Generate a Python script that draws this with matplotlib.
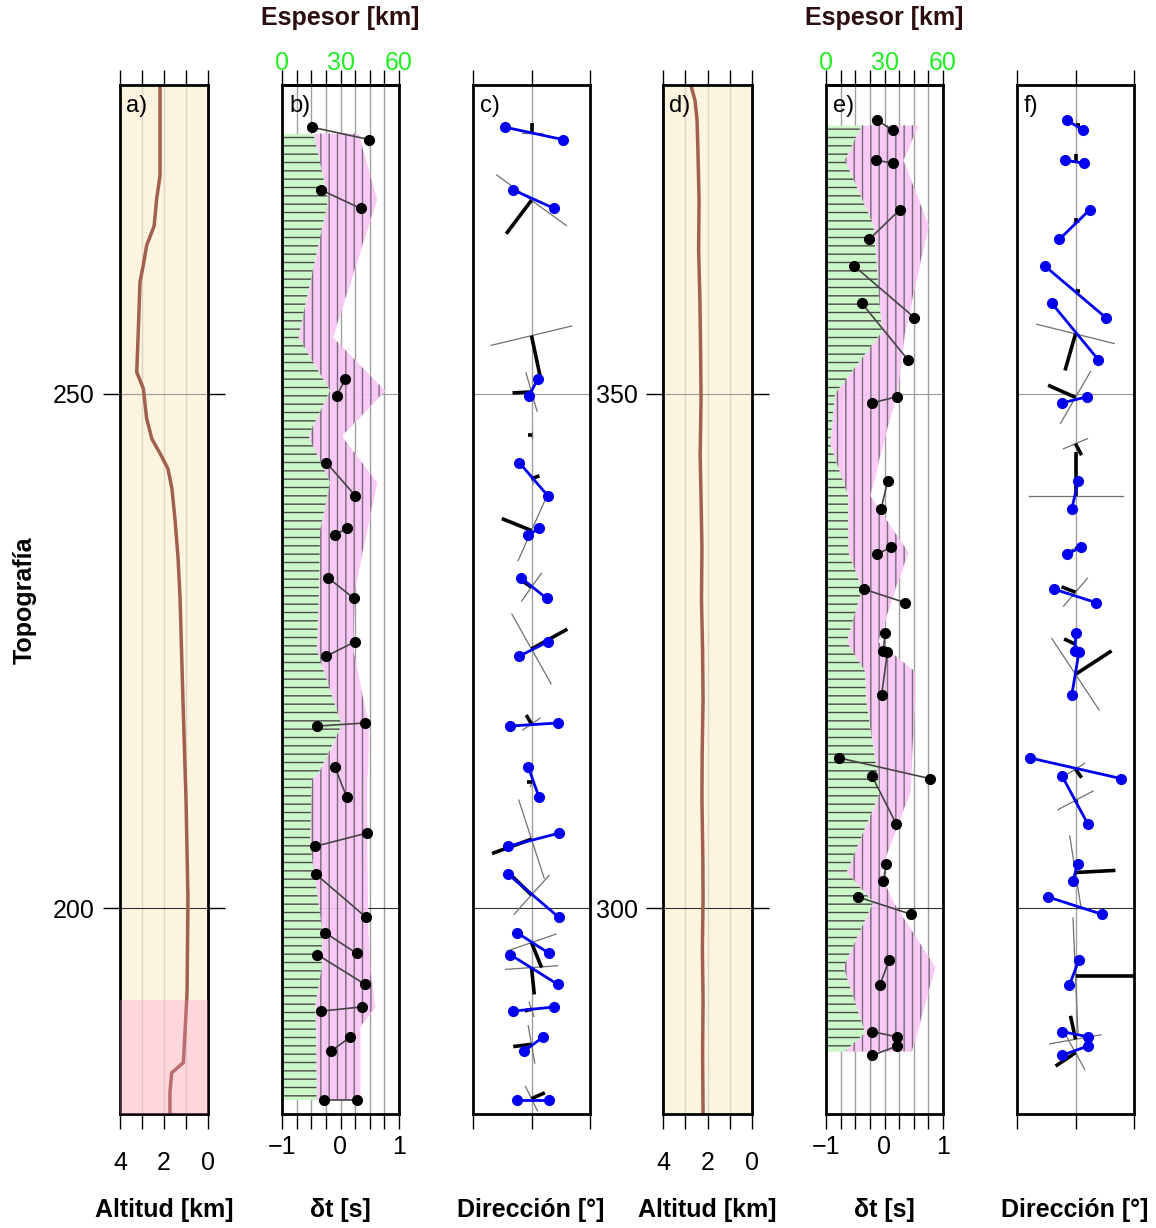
import numpy as np
import matplotlib.pyplot as plt

plt.rcParams['font.family'] = ['Liberation Sans', 'DejaVu Sans']
plt.rcParams['hatch.linewidth'] = 1.0
plt.rcParams['axes.unicode_minus'] = True

# ---- topography (position along profile, altitude km) ----
topo1_y = [280.0, 271.2, 269.0, 266.3, 264.4, 262.5, 260.9, 256.0, 252.1, 250.5,
           247.6, 245.6, 244.2, 242.7, 240.8, 237.8, 234.0, 230.1, 220.3, 210.6,
           200.9, 192.1, 191.0, 185.0, 184.0, 182.1, 180.0]
topo1_alt = [2.18, 2.18, 2.33, 2.45, 2.79, 2.94, 3.09, 3.17, 3.24, 2.94,
             2.79, 2.55, 2.18, 1.82, 1.64, 1.50, 1.36, 1.27, 1.14, 1.00,
             0.91, 0.95, 0.97, 1.12, 1.65, 1.73, 1.73]
topo2_y = [380.0, 378.5, 376.6, 373.6, 368.8, 364.0, 359.0, 354.0, 349.5, 344.0,
           339.8, 335.0, 330.0, 325.0, 320.3, 315.0, 310.6, 305.0, 300.9, 296.0,
           291.1, 286.0, 280.0]
topo2_alt = [2.75, 2.56, 2.47, 2.43, 2.38, 2.40, 2.34, 2.31, 2.29, 2.33,
             2.29, 2.25, 2.27, 2.22, 2.20, 2.24, 2.25, 2.21, 2.20, 2.23,
             2.20, 2.22, 2.20]
lowland_band = (180.0, 191.1)

# ---- crust (green) and anisotropic layer (pink) limits, km ----
layer1_y = [275.3, 268.9, 255.5, 250.3, 245.9, 241.4, 236.7, 231.2, 225.1, 217.8,
            213.4, 212.5, 206.3, 198.2, 194.3, 190.4, 188.5, 181.4]
crust1_km = [16.1, 23.7, 8.4, 24.6, 13.5, 24.6, 19.5, 19.0, 17.8, 30.6,
             19.5, 15.2, 14.4, 20.4, 20.4, 16.9, 17.4, 17.8]
layer1_km = [39.1, 48.6, 26.0, 52.8, 30.6, 48.6, 43.5, 37.4, 36.5, 44.3,
             44.0, 43.4, 43.5, 44.0, 45.0, 47.7, 40.0, 40.0]

layer2_y = [376.1, 372.7, 366.4, 356.0, 350.0, 345.1, 340.1, 334.6, 331.0, 325.9,
            323.0, 320.3, 311.3, 303.5, 300.6, 294.3, 287.9, 286.1]
crust2_km = [18.3, 9.7, 24.3, 28.6, 4.6, 2.1, 11.3, 11.4, 18.5, 10.6,
             20.0, 20.5, 27.7, 10.6, 24.3, 8.9, 20.0, 9.7]
layer2_km = [47.3, 39.6, 52.5, 40.5, 36.3, 29.2, 22.6, 42.2, 35.4, 26.8,
             45.6, 45.6, 43.1, 27.7, 34.5, 55.9, 46.7, 43.9]

# ---- splitting measurements, consecutive entries form a pair ----
meas1_y = [275.9, 274.7, 269.8, 268.0, 251.4, 249.8, 243.3, 240.1, 236.9, 236.3,
           232.1, 230.1, 225.9, 224.5, 217.7, 218.0, 213.7, 210.8, 207.3, 206.0,
           203.3, 199.1, 197.6, 195.6, 195.5, 192.6, 190.0, 190.4, 187.5, 186.1,
           181.4, 181.4]
meas1_dt = [-0.49, 0.49, -0.33, 0.345, 0.08, -0.065, -0.24, 0.25, 0.106, -0.094,
            -0.21, 0.23, 0.25, -0.24, -0.40, 0.42, -0.094, 0.106, 0.45, -0.44,
            -0.42, 0.44, -0.26, 0.28, -0.40, 0.42, -0.33, 0.36, 0.17, -0.16,
            -0.29, 0.28]
meas1_dir = [-40.8, 48.0, -28.0, 35.0, 9.5, -3.8, -18.8, 24.9, 12.0, -4.9,
             -16.0, 23.4, 25.8, -18.8, -33.0, 40.3, -4.9, 11.5, 42.8, -36.6,
             -35.7, 42.3, -21.8, 27.4, -33.0, 40.3, -28.0, 34.6, 18.2, -11.5,
             -22.8, 27.4]

meas2_y = [376.6, 375.6, 372.7, 372.4, 367.9, 365.0, 362.4, 357.4, 358.8, 353.3,
           349.7, 349.1, 341.5, 338.8, 335.1, 334.4, 331.0, 329.7, 326.7, 325.0,
           324.9, 320.7, 314.6, 312.6, 312.8, 308.2, 304.3, 302.6, 301.1, 299.4,
           295.0, 292.5, 288.0, 287.5, 286.6, 285.7]
meas2_dt = [-0.133, 0.14, -0.145, 0.14, 0.265, -0.26, -0.516, 0.51, -0.39, 0.40,
            0.21, -0.22, 0.055, -0.06, 0.11, -0.12, -0.35, 0.35, 0.01, -0.02,
            0.05, -0.05, -0.77, 0.77, -0.21, 0.20, 0.03, -0.02, -0.46, 0.46,
            0.08, -0.08, -0.21, 0.215, 0.215, -0.21]
meas2_dir = [-13.5, 12.0, -16.2, 13.1, 22.3, -24.9, -46.9, 46.5, -36.6, 35.1,
             18.2, -21.2, 4.3, -5.8, 8.5, -12.6, -32.6, 31.5, 0.3, -1.0,
             5.4, -5.8, -70.0, 70.0, -20.3, 18.8, 3.4, -4.3, -42.8, 41.2,
             5.4, -9.5, -20.3, 19.7, 18.8, -21.2]

# ---- mean fast axis (black) and reference axis (grey) per station ----
stick1_y = [275.29, 268.80, 255.64, 250.17, 246.01, 241.73, 236.70, 231.20, 225.19,
            217.90, 212.29, 206.71, 201.29, 196.66, 194.23, 190.18, 186.77, 181.49]
stick1_az = [0, 217, 168, 267, 270, 69, 292, 304, 61,
             329.5, 270, 250, 314, 158, 174, 256, 263, 66]
stick1_len = [10, 42, 41, 19, 4, 8.5, 32, 12, 41,
              10.4, 5, 42, 30, 27, 27, 7, 18.4, 14.6]
ref1_az = [90, 126, 76.5, 164, 0, 160, 24, 35.5, 150.6,
           56, 10, 162, 42, 71, 86, 161, 170, 154]
ref1_len = [10, 43, 41.5, 20, 3, 5, 33, 17, 40,
            10.5, 5, 41, 26, 26, 26, 7.6, 19, 13.6]

stick2_y = [376.07, 372.54, 366.73, 360.02, 355.81, 349.64, 345.14, 340.03, 334.92,
            330.71, 325.65, 322.73, 313.52, 310.48, 303.47, 293.41, 287.26, 285.96]
stick2_az = [90, 0, 0, 90, 196, 294, 152, 0, 60,
             291, 295, 57, 145, 150, 87, 90, 348, 236]
stick2_len = [4, 8, 4, 4, 38, 30, 13, 44, 5,
              15, 12.6, 43, 10.6, 3, 40, 59, 24, 24]
ref2_az = [0, 90, 90, 0, 104, 30, 67, 90, 80,
           40.6, 146.5, 146.5, 58, 62, 171, 177.5, 80, 151]
ref2_len = [4, 4, 3, 3, 40, 30, 13, 47, 9,
            18.4, 3, 43, 10.8, 20, 37, 58, 26, 19]

W, H = 1156, 1228
fig = plt.figure(figsize=(W / 100, H / 100), dpi=100)
TOP, BOT = 85, 1114


def make_ax(x0, x1):
    ax = fig.add_axes([x0 / W, 1 - BOT / H, (x1 - x0) / W, (BOT - TOP) / H])
    for s in ax.spines.values():
        s.set_linewidth(2)
    ax.tick_params(which='both', direction='out', length=11, width=1,
                   labelsize=17, top=True, bottom=True)
    return ax


def hlines(ax, ylo, yhi):
    ax.axhline(yhi, color='#9a9a9a', lw=0.8, zorder=0.5)
    ax.axhline(ylo, color='#333333', lw=0.8, zorder=0.5)


def topo_panel(x0, x1, ty, talt, ylim, ticks, tag, band=None):
    ax = make_ax(x0, x1)
    ax.set_facecolor('#fdf4df')
    ax.set_xlim(4, 0)
    ax.set_ylim(*ylim)
    for v in (1, 2, 3):
        ax.axvline(v, color='#ddd5c5', lw=1, zorder=0.4)
    hlines(ax, *ticks)
    ax.plot(talt, ty, color='#a0604c', lw=2.5, zorder=2)
    if band is not None:
        ax.axhspan(*band, color='#ff8fd0', alpha=0.28, lw=0, zorder=3)
    ax.set_xticks([4, 3, 2, 1, 0])
    ax.set_xticklabels(['4', '', '2', '', '0'])
    ax.tick_params(axis='x', pad=16, labelsize=18)
    ax.set_yticks(list(ticks))
    ax.tick_params(axis='y', left=True, right=True, length=12, labelsize=18, pad=6)
    ax.text(0.07, 0.99, tag, transform=ax.transAxes, va='top', fontsize=17)
    return ax


def dt_panel(x0, x1, ly, crust, layer, my, mdt, ylim, ticks, tag):
    ax = make_ax(x0, x1)
    ax.set_xlim(-1, 1)
    ax.set_ylim(*ylim)
    for v in np.arange(-0.75, 0.76, 0.25):
        ax.axvline(v, color='#a0a0a0', lw=1, zorder=0.4)
    hlines(ax, *ticks)
    g = np.array(crust) / 30 - 1
    p = np.array(layer) / 30 - 1
    ax.fill_betweenx(ly, -1, g, color='#ccf7c9', lw=0, zorder=1)
    ax.fill_betweenx(ly, -1, g, facecolor='none', edgecolor='#4a4a4a',
                     hatch='--', lw=0, zorder=1.1)
    ax.fill_betweenx(ly, g, p, color='#f9c6f5', alpha=0.92, lw=0, zorder=1)
    ax.fill_betweenx(ly, g, p, facecolor='none', edgecolor='#7a6a7a',
                     hatch='||', lw=0, zorder=1.1)
    for i in range(0, len(my), 2):
        ax.plot(mdt[i:i + 2], my[i:i + 2], color='#444444', lw=1.2, zorder=3)
    ax.plot(mdt, my, 'o', color='black', ms=7, zorder=4)
    ax.set_xticks(np.arange(-1, 1.01, 0.25))
    ax.set_xticklabels(['\u22121', '', '', '', '0', '', '', '', '1'])
    ax.tick_params(axis='x', top=False, pad=4, labelsize=18)
    ax.set_yticks([])
    sec = ax.secondary_xaxis('top', functions=(lambda d: (d + 1) * 30,
                                               lambda k: k / 30 - 1))
    sec.set_xticks(np.arange(0, 60.1, 7.5))
    sec.set_xticklabels(['0', '', '', '', '30', '', '', '', '60'])
    sec.tick_params(direction='out', length=11, width=1, labelsize=18,
                    labelcolor='#22ee22', pad=-4)
    sec.spines['top'].set_linewidth(2)
    ax.text(0.06, 0.99, tag, transform=ax.transAxes, va='top', fontsize=17)
    return ax


def dir_panel(x0, x1, my, mdir, sy, saz, slen, raz, rlen, ylim, ticks, tag):
    ax = make_ax(x0, x1)
    ax.set_xlim(-90, 90)
    ax.set_ylim(*ylim)
    ax.axvline(0, color='#a0a0a0', lw=1, zorder=0.4)
    hlines(ax, *ticks)
    # pixels per data unit, for drawing sticks with true angles
    sx = (x1 - x0) / 180.0
    sy_ = (BOT - TOP) / (ylim[1] - ylim[0])
    for y, a, L, ra, rl in zip(sy, saz, slen, raz, rlen):
        ra_r = np.radians(ra)
        dx, dy = rl * np.sin(ra_r) / sx, rl * np.cos(ra_r) / sy_
        ax.plot([-dx, dx], [y - dy, y + dy], color='#707070', lw=0.9, zorder=2)
        a_r = np.radians(a)
        ax.plot([0, L * np.sin(a_r) / sx], [y, y + L * np.cos(a_r) / sy_],
                color='black', lw=2.6, solid_capstyle='butt', zorder=3)
    for i in range(0, len(my), 2):
        ax.plot(mdir[i:i + 2], my[i:i + 2], color='#0000ee', lw=2, zorder=4)
    ax.plot(mdir, my, 'o', color='#0000ee', ms=7, zorder=5)
    ax.set_xticks([-90, 0, 90])
    ax.set_xticklabels([])
    ax.set_yticks([])
    ax.text(0.06, 0.99, tag, transform=ax.transAxes, va='top', fontsize=17)
    return ax


topo_panel(120, 208, topo1_y, topo1_alt, (180, 280), (200, 250), 'a)', lowland_band)
dt_panel(282, 399, layer1_y, crust1_km, layer1_km, meas1_y, meas1_dt,
         (180, 280), (200, 250), 'b)')
dir_panel(473, 590, meas1_y, meas1_dir, stick1_y, stick1_az, stick1_len,
          ref1_az, ref1_len, (180, 280), (200, 250), 'c)')
topo_panel(663, 752, topo2_y, topo2_alt, (280, 380), (300, 350), 'd)')
dt_panel(826, 943, layer2_y, crust2_km, layer2_km, meas2_y, meas2_dt,
         (280, 380), (300, 350), 'e)')
dir_panel(1017, 1134, meas2_y, meas2_dir, stick2_y, stick2_az, stick2_len,
          ref2_az, ref2_len, (280, 380), (300, 350), 'f)')

bold = dict(fontsize=18, fontweight='bold', ha='center', va='center')
for xc, lab in [(164, 'Altitud [km]'), (340, '\u03b4t [s]'), (531, 'Direcci\u00f3n [\u00b0]'),
                (707, 'Altitud [km]'), (884, '\u03b4t [s]'), (1075, 'Direcci\u00f3n [\u00b0]')]:
    fig.text(xc / W, 1 - 1210 / H, lab, **bold)
for xc in (340, 884):
    fig.text(xc / W, 1 - 18 / H, 'Espesor [km]', color='#2b0d0d', **bold)
fig.text(25 / W, 1 - 600 / H, 'Topograf\u00eda', rotation=90, **bold)

fig.savefig('out.png', dpi=100)
